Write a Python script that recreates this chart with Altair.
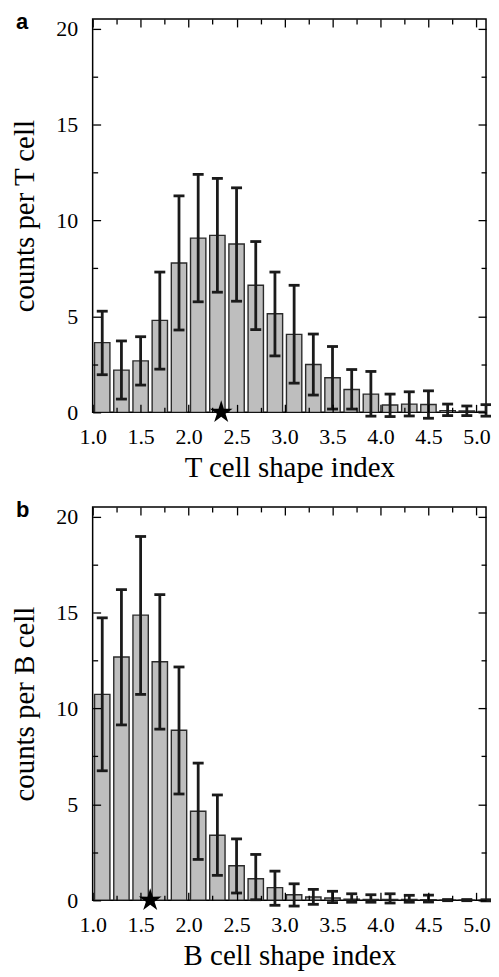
import altair as alt
import pandas as pd

# ---- data ----
bin_centers = [1.1, 1.3, 1.5, 1.7, 1.9, 2.1, 2.3, 2.5, 2.7, 2.9, 3.1,
               3.3, 3.5, 3.7, 3.9, 4.1, 4.3, 4.5, 4.7, 4.9, 5.1]

t_counts = [3.63, 2.20, 2.68, 4.79, 7.78, 9.08, 9.22, 8.77, 6.62, 5.14, 4.06,
            2.49, 1.80, 1.19, 0.95, 0.38, 0.43, 0.41, 0.09, 0.07, 0.05]
t_err_hi = [5.27, 3.72, 3.94, 7.31, 11.28, 12.40, 12.19, 11.70, 8.90, 7.31, 6.62,
            4.08, 3.43, 2.23, 2.13, 0.95, 1.07, 1.12, 0.43, 0.33, 0.40]
t_err_lo = [1.96, 0.69, 1.42, 2.25, 4.29, 5.76, 6.26, 5.79, 4.31, 2.94, 1.52,
            0.90, 0.17, 0.17, -0.20, -0.22, -0.19, -0.31, -0.17, -0.17, -0.20]
t_mean = [2.34]

b_counts = [10.73, 12.68, 14.86, 12.43, 8.86, 4.64, 3.39, 1.80, 1.12, 0.66, 0.29,
            0.17, 0.12, 0.06, 0.05, 0.05, 0.04, 0.03, 0.01, 0.01, 0.0]
b_err_hi = [14.72, 16.19, 18.96, 15.93, 12.16, 7.15, 5.49, 3.20, 2.39, 1.52, 0.86,
            0.57, 0.47, 0.34, 0.29, 0.34, 0.26, 0.27, 0.04, 0.04, 0.03]
b_err_lo = [6.75, 9.14, 10.73, 8.92, 5.54, 2.13, 1.30, 0.38, 0.03, -0.26, -0.30,
            -0.21, -0.12, -0.10, -0.10, -0.14, -0.10, -0.09, -0.02, -0.02, -0.03]
b_mean = [1.60]

x_tick_labels = [1.0, 1.5, 2.0, 2.5, 3.0, 3.5, 4.0, 4.5, 5.0]
x_minor_ticks = [1.25, 1.75, 2.25, 2.75, 3.25, 3.75, 4.25, 4.75]
y_tick_labels = [0, 5, 10, 15, 20]
y_minor_ticks = [2.5, 7.5, 12.5, 17.5]

X_DOMAIN = [1.0, 5.1]
Y_DOMAIN = [0, 20.5]
W, H = 395, 395
SERIF = "Liberation Serif"
STAR = ("M0,-1L0.223,-0.307L0.951,-0.309L0.361,0.117L0.588,0.809L0,0.38"
        "L-0.588,0.809L-0.361,0.117L-0.951,-0.309L-0.223,-0.307Z")


def tick_axis(orient, values, size):
    return alt.Axis(orient=orient, values=values, tickSize=size, offset=-size,
                    labels=False, domain=False, grid=False, ticks=True,
                    tickColor="black", tickWidth=1.3, title=None, zindex=2,
                    minExtent=0, maxExtent=0)


def label_axis(orient, values, size, fmt, title, lpad, tpad):
    return alt.Axis(orient=orient, values=values, tickSize=size, offset=-size,
                    labels=True, domain=False, grid=False, ticks=True,
                    tickColor="black", tickWidth=1.3, zindex=2, format=fmt,
                    labelFont=SERIF, labelFontSize=22, labelColor="black",
                    labelPadding=lpad, title=title, titleFont=SERIF,
                    titleFontSize=29, titleFontWeight="normal",
                    titleColor="black", titlePadding=tpad, labelFlush=False,
                    labelOverlap=False, minExtent=0)


def panel(counts, lo, hi, mean, letter, xtitle, ytitle):
    df = pd.DataFrame({"x": bin_centers, "v": counts, "lo": lo, "hi": hi})
    xs = alt.Scale(domain=X_DOMAIN, nice=False, zero=False)
    ys = alt.Scale(domain=Y_DOMAIN, nice=False, zero=False)
    base = alt.Chart(df)

    bars = base.transform_calculate(
        x0="datum.x - 0.08", x1="datum.x + 0.08"
    ).mark_bar(clip=True, fill="#bebebe", stroke="#2b2b2b", strokeWidth=1.4).encode(
        x=alt.X("x0:Q", scale=xs,
                axis=label_axis("bottom", x_tick_labels, 8, ".1f", xtitle, 14, 6)),
        x2="x1:Q",
        y=alt.Y("v:Q", scale=ys,
                axis=label_axis("left", y_tick_labels, 8, "d", ytitle, 15, 16)),
        y2=alt.datum(0),
    )

    rule = base.mark_rule(color="#1a1a1a", strokeWidth=2.8).encode(
        x=alt.X("x:Q", scale=xs, axis=tick_axis("top", x_tick_labels, 8)),
        y=alt.Y("lo:Q", scale=ys, axis=tick_axis("right", y_tick_labels, 8)),
        y2="hi:Q",
    )
    cap_lo = base.mark_tick(orient="horizontal", size=11, thickness=2.8,
                            color="#1a1a1a", opacity=1).encode(
        x=alt.X("x:Q", scale=xs, axis=tick_axis("top", x_minor_ticks, 5)),
        y=alt.Y("lo:Q", scale=ys, axis=tick_axis("right", y_minor_ticks, 5)),
    )
    cap_hi = base.mark_tick(orient="horizontal", size=11, thickness=2.8,
                            color="#1a1a1a", opacity=1).encode(
        x=alt.X("x:Q", scale=xs, axis=tick_axis("bottom", x_minor_ticks, 5)),
        y=alt.Y("hi:Q", scale=ys, axis=tick_axis("left", y_minor_ticks, 5)),
    )

    star = alt.Chart(pd.DataFrame({"x": mean, "y": [0] * len(mean)})).mark_point(
        shape=STAR, filled=True, size=576, color="black", opacity=1
    ).encode(
        x=alt.X("x:Q", scale=xs, axis=None),
        y=alt.Y("y:Q", scale=ys, axis=None),
    )

    lab = alt.Chart(pd.DataFrame({"t": [letter]})).mark_text(
        font="Liberation Sans", fontWeight="bold", fontSize=22,
        align="left", baseline="alphabetic", color="black"
    ).encode(text="t:N", x=alt.value(-77), y=alt.value(10))

    return alt.layer(bars, rule, cap_lo, cap_hi, star, lab).resolve_axis(
        x="independent", y="independent"
    ).properties(width=W, height=H)


pa = panel(t_counts, t_err_lo, t_err_hi, t_mean, "a",
           "T cell shape index", "counts per T cell")
pb = panel(b_counts, b_err_lo, b_err_hi, b_mean, "b",
           "B cell shape index", "counts per B cell")

chart = alt.vconcat(pa, pb, spacing=15).configure_view(
    stroke="black", strokeWidth=1.5
).properties(padding={"left": 2, "top": 0, "right": -2, "bottom": 0})

chart.save("out.html", embed_options={"renderer": "svg", "actions": False})
